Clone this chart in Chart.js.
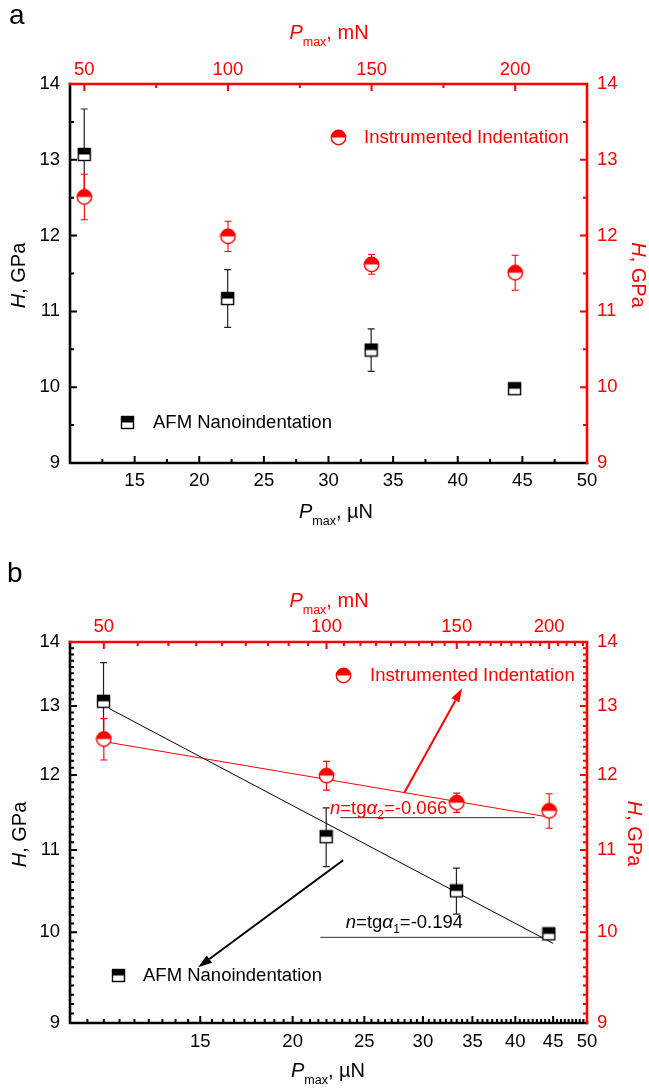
<!DOCTYPE html>
<html><head><meta charset="utf-8">
<script src="https://cdn.jsdelivr.net/npm/chart.js@4.4.0/dist/chart.umd.min.js"></script>
<style>
html,body{margin:0;padding:0;background:#fff;}
#wrap{position:relative;width:649px;height:1088px;overflow:hidden;background:#fff;}
.pane{position:absolute;left:0;width:649px;height:544px;}
</style></head><body>
<div id="wrap">
<div class="pane" style="top:0"><canvas id="ca" width="649" height="544"></canvas></div>
<div class="pane" style="top:544px"><canvas id="cb" width="649" height="544"></canvas></div>
</div>
<script>
// ---------- data ----------
const afmP   = [11.1, 22.2, 33.3, 44.4];      // µN (bottom axis)
const afmH   = [13.07, 11.17, 10.49, 9.98];   // GPa
const afmErr = [0.60, 0.38, 0.28, 0.04];
const iiP    = [50, 100, 150, 200];           // mN (top axis)
const iiH    = [12.51, 11.99, 11.62, 11.51];  // GPa
const iiErr  = [0.30, 0.20, 0.13, 0.23];

const xTicks  = [15, 20, 25, 30, 35, 40, 45, 50];
const x2Ticks = [50, 100, 150, 200];
const yTicks  = [9, 10, 11, 12, 13, 14];

// panel b fit / guide lines
const fitAFM  = [[11.3, 12.96], [45.0, 9.87]];   // µN, GPa
const fitII   = [[50.2, 12.47], [199, 11.43]];   // mN, GPa
const hLine1  = [[21.8, 9.94], [43.5, 9.94]];    // µN, GPa
const hLine2  = [[23.2, 11.42], [42.5, 11.42]];  // µN, GPa
const arrowII  = [[28.3, 11.75], [33.9, 13.27]]; // µN, GPa (tail, tip)
const arrowAFM = [[23.4, 10.87], [14.9, 9.60]];
const slope1 = {x: 23.6, y: 10.12, sub: '1', val: '=-0.194'};
const slope2 = {x: 22.46, y: 11.56, sub: '2', val: '=-0.066'};

// ---------- style ----------
const FONT = '"Liberation Sans", Arial, Helvetica, sans-serif';
const RED = '#ff0000';

function minorSteps(majors, step, n, lo, hi) {
  const out = [];
  const first = majors[0], last = majors[majors.length - 1];
  for (let v = first - step; v > lo + 1e-9; v -= step) out.push(v);
  for (let i = 0; i < majors.length - 1; i++) for (let k = 1; k <= n; k++) out.push(majors[i] + k * step);
  for (let v = last + step; v < hi - 1e-9; v += step) out.push(v);
  return out;
}

function makeSquare() {
  const c = document.createElement('canvas'); c.width = 15; c.height = 15;
  const g = c.getContext('2d');
  g.fillStyle = '#fff'; g.fillRect(1, 1, 13, 13);
  g.fillStyle = '#000'; g.fillRect(1, 1, 13, 6.5);
  g.strokeStyle = '#000'; g.lineWidth = 1.4; g.strokeRect(1.5, 1.5, 12, 12);
  return c;
}
function makeCircle() {
  const c = document.createElement('canvas'); c.width = 17; c.height = 17;
  const g = c.getContext('2d');
  g.beginPath(); g.arc(8.5, 8.5, 7.2, 0, Math.PI * 2); g.fillStyle = '#fff'; g.fill();
  g.beginPath(); g.arc(8.5, 8.5, 7.2, Math.PI, Math.PI * 2); g.closePath(); g.fillStyle = RED; g.fill();
  g.beginPath(); g.arc(8.5, 8.5, 7.2, 0, Math.PI * 2); g.strokeStyle = RED; g.lineWidth = 1.4; g.stroke();
  return c;
}
const SQ = makeSquare(), CI = makeCircle();

function drawParts(ctx, parts, x, y, align, color) {
  let w = 0;
  parts.forEach(p => { ctx.font = p.f; p.w = ctx.measureText(p.t).width; w += p.w; });
  let cx = align === 'center' ? x - w / 2 : x;
  ctx.fillStyle = color; ctx.textAlign = 'left'; ctx.textBaseline = 'alphabetic';
  parts.forEach(p => { ctx.font = p.f; ctx.fillText(p.t, cx, y + (p.dy || 0)); cx += p.w; });
}
const fReg = s => s + 'px ' + FONT;
const fIt = s => 'italic ' + s + 'px ' + FONT;
const pTitle = unit => [{t: 'P', f: fIt(20)}, {t: 'max', f: fReg(12.5), dy: 7}, {t: ', ' + unit, f: fReg(20)}];
const hTitle = () => [{t: 'H', f: fIt(20)}, {t: ', GPa', f: fReg(20)}];

function scaleCfg(type, position, min, max, ticks, color, pad, size) {
  return {
    type, position, min, max, display: true,
    grid: {display: false, drawTicks: false},
    border: {display: false},
    ticks: {color, font: {family: FONT, size: 18.5}, padding: pad, autoSkip: false,
            maxRotation: 0, minRotation: 0, callback: v => String(v)},
    afterBuildTicks: s => { s.ticks = ticks.map(v => ({value: v})); },
    afterFit: s => { if (position === 'left' || position === 'right') s.width = size; else s.height = size; }
  };
}

function decoPlugin(P) {
  return {
    id: 'deco' + P.name,
    beforeDatasetsDraw(chart) {
      const ctx = chart.ctx;
      ctx.save();
      chart.data.datasets.forEach((ds, i) => {
        if (!ds.errs) return;
        const meta = chart.getDatasetMeta(i);
        const ys = chart.scales[ds.yAxisID];
        ctx.strokeStyle = ds.errColor; ctx.lineWidth = ds.errWidth;
        meta.data.forEach((el, j) => {
          const v = ds.data[j].y, e = ds.errs[j];
          const yt = ys.getPixelForValue(v + e), yb = ys.getPixelForValue(v - e);
          const x = el.x;
          ctx.beginPath();
          ctx.moveTo(x, yt); ctx.lineTo(x, yb);
          ctx.moveTo(x - 3.5, yt); ctx.lineTo(x + 3.5, yt);
          ctx.moveTo(x - 3.5, yb); ctx.lineTo(x + 3.5, yb);
          ctx.stroke();
        });
      });
      ctx.restore();
    },
    afterDatasetsDraw(chart) {
      const ctx = chart.ctx, sx = chart.scales.x, sy = chart.scales.y;
      ctx.save();
      (P.arrows || []).forEach(a => {
        const x1 = sx.getPixelForValue(a.pts[0][0]), y1 = sy.getPixelForValue(a.pts[0][1]);
        const x2 = sx.getPixelForValue(a.pts[1][0]), y2 = sy.getPixelForValue(a.pts[1][1]);
        const ang = Math.atan2(y2 - y1, x2 - x1), L = 14, W = 4.5;
        const bx = x2 - L * Math.cos(ang), by = y2 - L * Math.sin(ang);
        ctx.strokeStyle = a.color; ctx.fillStyle = a.color; ctx.lineWidth = 2;
        ctx.beginPath(); ctx.moveTo(x1, y1); ctx.lineTo(bx, by); ctx.stroke();
        ctx.beginPath(); ctx.moveTo(x2, y2);
        ctx.lineTo(bx + W * Math.sin(ang), by - W * Math.cos(ang));
        ctx.lineTo(bx - W * Math.sin(ang), by + W * Math.cos(ang));
        ctx.closePath(); ctx.fill();
      });
      (P.slopes || []).forEach(s => {
        const x = sx.getPixelForValue(s.d.x), y = sy.getPixelForValue(s.d.y) + 6.5;
        drawParts(ctx, [{t: 'n', f: fIt(18.5)}, {t: '=tg', f: fReg(18.5)}, {t: 'α', f: fIt(19)},
                        {t: s.d.sub, f: fReg(12), dy: 5}, {t: s.d.val, f: fReg(18.5)}], x, y, 'left', s.color);
      });
      ctx.restore();
    },
    afterDraw(chart) {
      const ctx = chart.ctx, ca = chart.chartArea, S = chart.scales;
      const {left, right, top, bottom} = ca;
      ctx.save();
      // ticks
      ctx.lineWidth = 2; ctx.lineCap = 'butt';
      const tk = (col, list) => { ctx.strokeStyle = col; ctx.beginPath(); list(); ctx.stroke(); };
      const MJ = 7, MN = 4;
      tk('#000', () => {
        yTicks.forEach(v => { const p = S.y.getPixelForValue(v); ctx.moveTo(left, p); ctx.lineTo(left + MJ, p); });
        P.yMinor.forEach(v => { const p = S.y.getPixelForValue(v); ctx.moveTo(left, p); ctx.lineTo(left + MN, p); });
        xTicks.forEach(v => { const p = S.x.getPixelForValue(v); ctx.moveTo(p, bottom); ctx.lineTo(p, bottom - MJ); });
        P.xMinor.forEach(v => { const p = S.x.getPixelForValue(v); ctx.moveTo(p, bottom); ctx.lineTo(p, bottom - MN); });
      });
      tk(RED, () => {
        yTicks.forEach(v => { const p = S.y2.getPixelForValue(v); ctx.moveTo(right, p); ctx.lineTo(right - MJ, p); });
        P.yMinor.forEach(v => { const p = S.y2.getPixelForValue(v); ctx.moveTo(right, p); ctx.lineTo(right - MN, p); });
        x2Ticks.forEach(v => { const p = S.x2.getPixelForValue(v); ctx.moveTo(p, top); ctx.lineTo(p, top + MJ); });
        P.x2Minor.forEach(v => { const p = S.x2.getPixelForValue(v); ctx.moveTo(p, top); ctx.lineTo(p, top + MN); });
      });
      // frame
      ctx.lineWidth = 2.6; ctx.lineCap = 'square';
      ctx.strokeStyle = '#000';
      ctx.beginPath(); ctx.moveTo(left, top); ctx.lineTo(left, bottom); ctx.lineTo(right, bottom); ctx.stroke();
      ctx.strokeStyle = RED;
      ctx.beginPath(); ctx.moveTo(left, top); ctx.lineTo(right, top); ctx.lineTo(right, bottom); ctx.stroke();
      // legends
      P.legends.forEach(l => {
        const img = l.img;
        ctx.drawImage(img, Math.round(l.mx - img.width / 2), Math.round(l.my - img.height / 2));
        ctx.font = fReg(18.5); ctx.fillStyle = l.color; ctx.textAlign = 'left'; ctx.textBaseline = 'middle';
        ctx.fillText(l.text, l.tx, l.my + 1);
      });
      // titles
      drawParts(ctx, pTitle('mN'), P.topTitle[0], P.topTitle[1], 'center', RED);
      drawParts(ctx, pTitle('\u00b5N'), P.botTitle[0], P.botTitle[1], 'center', '#000');
      ctx.save(); ctx.translate(P.leftTitle[0], P.leftTitle[1]); ctx.rotate(-Math.PI / 2);
      drawParts(ctx, hTitle(), 0, 7.2, 'center', '#000'); ctx.restore();
      ctx.save(); ctx.translate(P.rightTitle[0], P.rightTitle[1]); ctx.rotate(Math.PI / 2);
      drawParts(ctx, hTitle(), 0, 7.2, 'center', RED); ctx.restore();
      // panel letter
      ctx.font = fReg(28); ctx.fillStyle = '#000'; ctx.textAlign = 'left'; ctx.textBaseline = 'alphabetic';
      ctx.fillText(P.name, P.letter[0], P.letter[1]);
      ctx.restore();
    }
  };
}

function buildChart(id, P) {
  const datasets = [
    {label: 'AFM Nanoindentation', data: afmP.map((x, i) => ({x, y: afmH[i]})), xAxisID: 'x', yAxisID: 'y',
     pointStyle: SQ, pointRadius: 7, showLine: false, errs: afmErr, errColor: '#222', errWidth: 1.2},
    {label: 'Instrumented Indentation', data: iiP.map((x, i) => ({x, y: iiH[i]})), xAxisID: 'x2', yAxisID: 'y',
     pointStyle: CI, pointRadius: 8, showLine: false, errs: iiErr, errColor: RED, errWidth: 1.1}
  ];
  (P.lines || []).forEach(l => datasets.push({
    data: l.pts.map(([x, y]) => ({x, y})), xAxisID: l.xAxis, yAxisID: 'y', showLine: true,
    borderColor: l.color, borderWidth: 1, pointRadius: 0, fill: false
  }));
  return new Chart(document.getElementById(id), {
    type: 'scatter',
    data: {datasets},
    options: {
      responsive: false, animation: false, devicePixelRatio: 1,
      layout: {padding: 0},
      plugins: {legend: {display: false}, tooltip: {enabled: false}},
      scales: {
        x:  scaleCfg(P.type, 'bottom', 10, 50, xTicks, '#000', P.xPad, P.botH),
        x2: scaleCfg(P.type, 'top', 45, 225, x2Ticks, RED, P.x2Pad, P.topH),
        y:  scaleCfg(P.type, 'left', 9, 14, yTicks, '#000', 10, 70),
        y2: scaleCfg(P.type, 'right', 9, 14, yTicks, RED, 10, 62)
      }
    },
    plugins: [decoPlugin(P)]
  });
}

buildChart('ca', {
  name: 'a', type: 'linear', topH: 84, botH: 81, xPad: 7, x2Pad: 3,
  yMinor: [9.5, 10.5, 11.5, 12.5, 13.5],
  xMinor: [12.5, 17.5, 22.5, 27.5, 32.5, 37.5, 42.5, 47.5],
  x2Minor: [75, 125, 175],
  legends: [
    {img: CI, mx: 338, my: 137, tx: 364, text: 'Instrumented Indentation', color: RED},
    {img: SQ, mx: 127, my: 422, tx: 153, text: 'AFM Nanoindentation', color: '#000'}
  ],
  topTitle: [329, 39], botTitle: [336, 518],
  leftTitle: [17.5, 275.5], rightTitle: [639, 275],
  letter: [9, 23.5]
});

buildChart('cb', {
  name: 'b', type: 'logarithmic', topH: 98, botH: 65, xPad: 8, x2Pad: 4,
  yMinor: minorSteps(yTicks, 0.1, 9, 9, 14),
  xMinor: minorSteps(xTicks, 5 / 9, 8, 10, 50),
  x2Minor: minorSteps(x2Ticks, 50 / 9, 8, 45, 225),
  lines: [
    {pts: fitAFM, xAxis: 'x', color: '#000'},
    {pts: fitII, xAxis: 'x2', color: RED},
    {pts: hLine1, xAxis: 'x', color: '#333'},
    {pts: hLine2, xAxis: 'x', color: '#333'}
  ],
  arrows: [{pts: arrowII, color: RED}, {pts: arrowAFM, color: '#000'}],
  slopes: [{d: slope1, color: '#000'}, {d: slope2, color: RED}],
  legends: [
    {img: CI, mx: 343, my: 131, tx: 370, text: 'Instrumented Indentation', color: RED},
    {img: SQ, mx: 118, my: 431, tx: 143, text: 'AFM Nanoindentation', color: '#000'}
  ],
  topTitle: [329, 62.7], botTitle: [328, 533],
  leftTitle: [18.5, 290.5], rightTitle: [635.5, 289.5],
  letter: [7, 37.7]
});
</script>
</body></html>
